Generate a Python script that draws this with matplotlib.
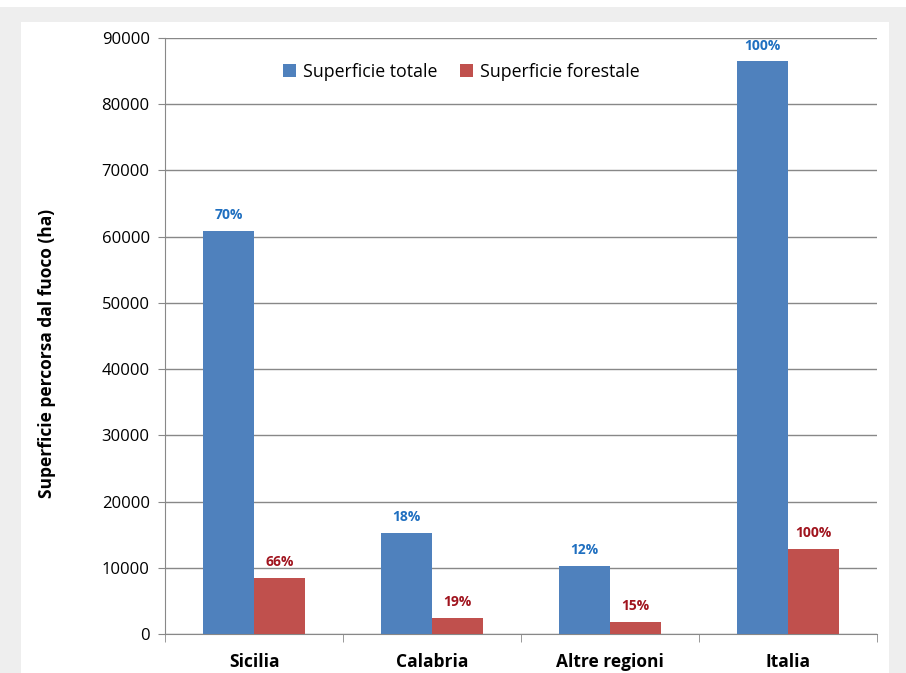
import numpy as np
import matplotlib.pyplot as plt
from matplotlib.patches import Rectangle

# dati
regioni = ["Sicilia", "Calabria", "Altre regioni", "Italia"]
sup_totale = [60900, 15300, 10300, 86500]
sup_forestale = [8450, 2400, 1800, 12850]
perc_totale = ["70%", "18%", "12%", "100%"]
perc_forestale = ["66%", "19%", "15%", "100%"]

plt.rcParams['font.family'] = ['Open Sans', 'DejaVu Sans']

W, H = 906, 673
fig = plt.figure(figsize=(W / 100, H / 100), dpi=100)
fig.patch.set_facecolor('white')

# cornice grigia
fig.patches.append(Rectangle((0, 0), 1, 1 - 7 / H, transform=fig.transFigure,
                             facecolor='#eeeeee', edgecolor='none', zorder=-2))
fig.patches.append(Rectangle((21 / W, 0), (889 - 21) / W, 1 - 22 / H,
                             transform=fig.transFigure, facecolor='white',
                             edgecolor='none', zorder=-1))

ax = fig.add_axes([165 / W, 1 - 634 / H, (877 - 165) / W, (634 - 38) / H])
ax.set_zorder(2)
ax.set_facecolor('none')

x = np.arange(len(regioni))
w = 0.285
b1 = ax.bar(x - w / 2, sup_totale, w, color='#4F81BD', label='Superficie totale', zorder=3)
b2 = ax.bar(x + w / 2, sup_forestale, w, color='#C0504D', label='Superficie forestale', zorder=3)

for rect, t in zip(b1, perc_totale):
    ax.text(rect.get_x() + rect.get_width() / 2, rect.get_height() + 1300, t,
            ha='center', va='bottom', fontsize=10, fontweight='bold', color='#1F6FC0')
for rect, t in zip(b2, perc_forestale):
    ax.text(rect.get_x() + rect.get_width() / 2, rect.get_height() + 1300, t,
            ha='center', va='bottom', fontsize=10, fontweight='bold', color='#A0141E')

ax.set_xlim(-0.5, len(regioni) - 0.5)
ax.set_ylim(0, 90000)
ax.set_yticks(np.arange(0, 90001, 10000))
ax.tick_params(axis='y', labelsize=12, length=5, color='#888888', pad=6)
ax.yaxis.grid(True, color='#888888', linewidth=1, zorder=0)

ax.set_xticks(x)
ax.set_xticklabels(regioni, fontsize=12.5, fontweight='bold')
ax.set_xticks(np.arange(-0.5, len(regioni)), minor=True)
ax.tick_params(axis='x', which='major', length=0, pad=14)
ax.tick_params(axis='x', which='minor', length=6, color='#888888')

for s in ['top', 'right']:
    ax.spines[s].set_visible(False)
for s in ['left', 'bottom']:
    ax.spines[s].set_color('#888888')

ax.set_ylabel('Superficie percorsa dal fuoco (ha)', fontsize=12.5, fontweight='bold')
ax.yaxis.set_label_coords(-0.153, 0.4715)

ax.legend(loc='upper center', bbox_to_anchor=(0.416, 0.985), ncol=2, frameon=False,
          fontsize=12.8, handlelength=0.7, handleheight=0.7, columnspacing=1.3,
          handletextpad=0.4)

fig.savefig('out.png', dpi=100)
